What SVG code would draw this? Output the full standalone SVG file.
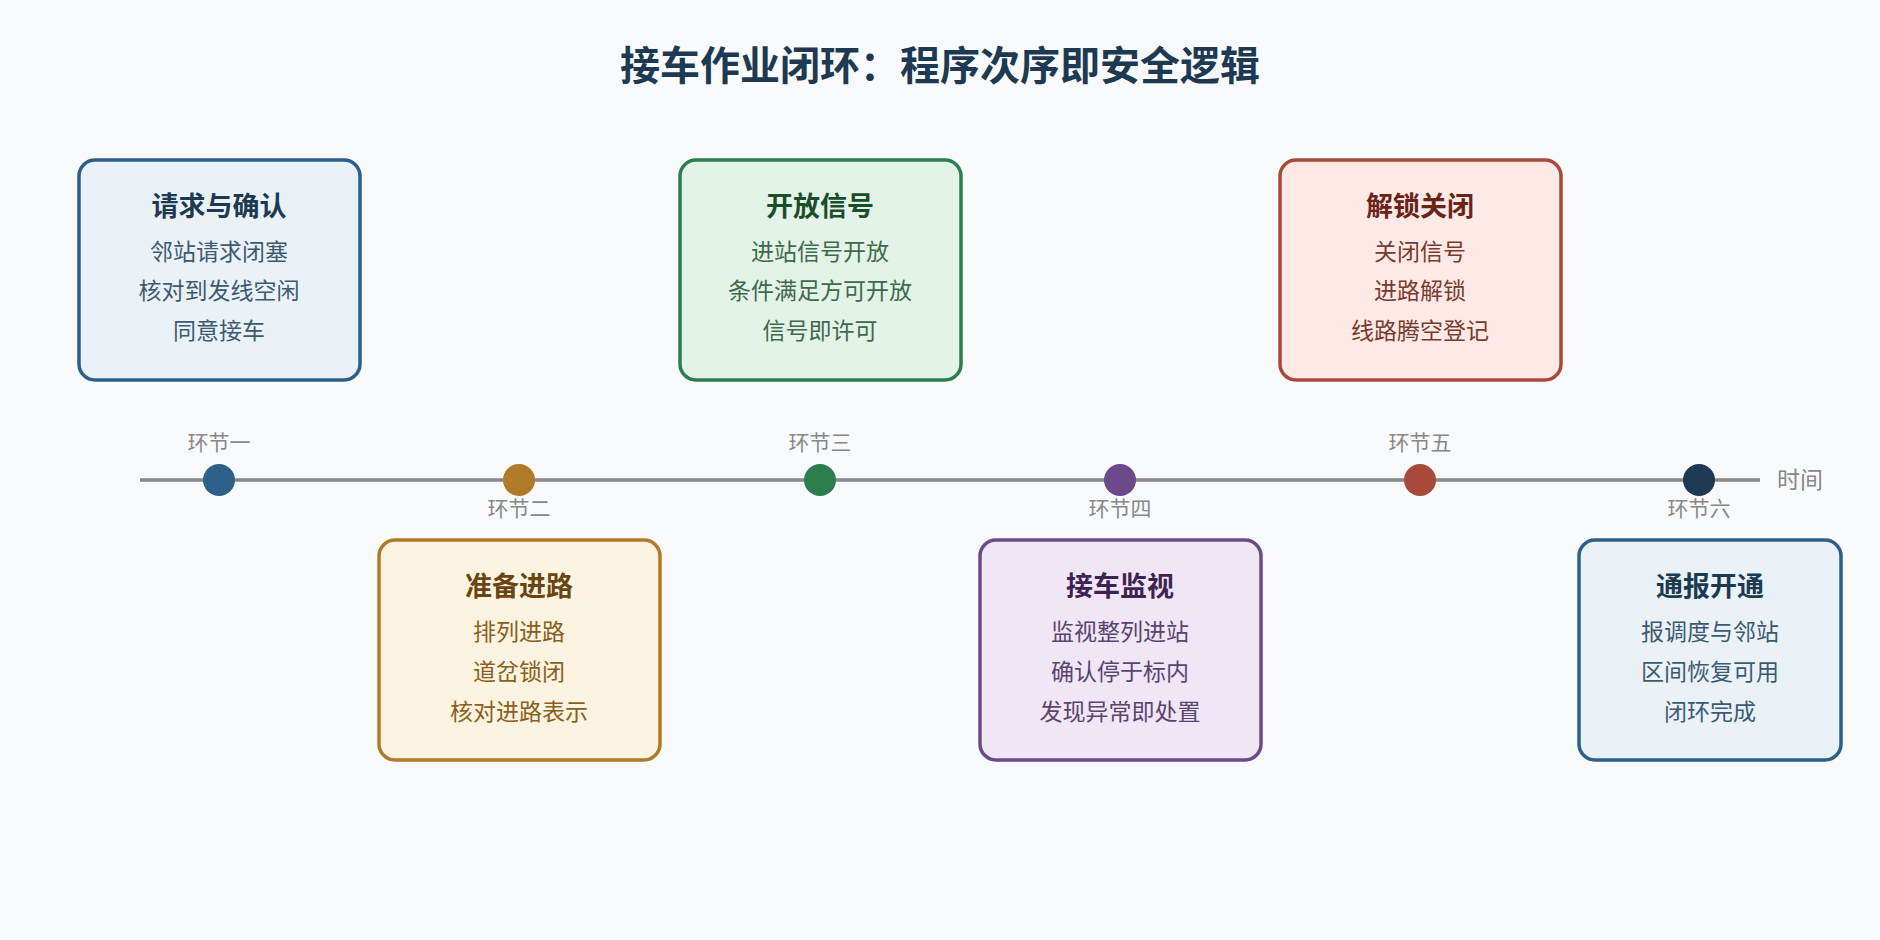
<svg xmlns="http://www.w3.org/2000/svg" width="1880" height="940" viewBox="0 0 1880 940">
<style>
text{font-family:"Noto Sans CJK SC","Noto Sans",sans-serif;text-anchor:middle}
.title{font-size:40px;font-weight:bold;fill:#1e3a52}
.box{stroke-width:3.5}
.h{font-size:27px;font-weight:bold}
.l{font-size:23px}
.lab{font-size:21px;fill:#888}
</style>
<rect width="1880" height="940" fill="#f8fafc"/>
<text class="title" x="940" y="80">接车作业闭环：程序次序即安全逻辑</text>
<g id="connectors">
<line x1="140" y1="480" x2="1760" y2="480" stroke="#888" stroke-width="3.5"/>
</g>
<text class="lab" x="1800" y="488" style="font-size:23px">时间</text>
<g id="dots">
<circle cx="219" cy="480" r="16" fill="#2c5f8a"/><text class="lab" x="219" y="450">环节一</text>
<circle cx="519" cy="480" r="16" fill="#b07a2a"/><text class="lab" x="519" y="516">环节二</text>
<circle cx="820" cy="480" r="16" fill="#2e7d4f"/><text class="lab" x="820" y="450">环节三</text>
<circle cx="1120" cy="480" r="16" fill="#6b4a8a"/><text class="lab" x="1120" y="516">环节四</text>
<circle cx="1420" cy="480" r="16" fill="#a84a3a"/><text class="lab" x="1420" y="450">环节五</text>
<circle cx="1699" cy="480" r="16" fill="#1e3a55"/><text class="lab" x="1699" y="516">环节六</text>
</g>
<g id="n1">
<rect class="box" x="79" y="160" width="281" height="220" rx="16" fill="#eaf2f8" stroke="#2c5f8a"/>
<text class="h" x="219" y="216" fill="#1c3a52">请求与确认</text>
<text class="l" x="219" y="260" fill="#3d5a73">邻站请求闭塞</text>
<text class="l" x="219" y="299" fill="#3d5a73">核对到发线空闲</text>
<text class="l" x="219" y="339" fill="#3d5a73">同意接车</text>
</g>
<g id="n2">
<rect class="box" x="379" y="540" width="281" height="220" rx="16" fill="#fdf3e1" stroke="#b07a2a"/>
<text class="h" x="519" y="596" fill="#6b4510">准备进路</text>
<text class="l" x="519" y="640" fill="#8a6020">排列进路</text>
<text class="l" x="519" y="680" fill="#8a6020">道岔锁闭</text>
<text class="l" x="519" y="720" fill="#8a6020">核对进路表示</text>
</g>
<g id="n3">
<rect class="box" x="680" y="160" width="281" height="220" rx="16" fill="#e4f3e8" stroke="#2e7d4f"/>
<text class="h" x="820" y="216" fill="#1b4d2c">开放信号</text>
<text class="l" x="820" y="260" fill="#3d6a4c">进站信号开放</text>
<text class="l" x="820" y="299" fill="#3d6a4c">条件满足方可开放</text>
<text class="l" x="820" y="339" fill="#3d6a4c">信号即许可</text>
</g>
<g id="n4">
<rect class="box" x="980" y="540" width="281" height="220" rx="16" fill="#f0e6f5" stroke="#6b4a8a"/>
<text class="h" x="1120" y="596" fill="#3d2452">接车监视</text>
<text class="l" x="1120" y="640" fill="#5a4470">监视整列进站</text>
<text class="l" x="1120" y="680" fill="#5a4470">确认停于标内</text>
<text class="l" x="1120" y="720" fill="#5a4470">发现异常即处置</text>
</g>
<g id="n5">
<rect class="box" x="1280" y="160" width="281" height="220" rx="16" fill="#fdeae6" stroke="#a84a3a"/>
<text class="h" x="1420" y="216" fill="#6b2418">解锁关闭</text>
<text class="l" x="1420" y="260" fill="#7a3a2c">关闭信号</text>
<text class="l" x="1420" y="299" fill="#7a3a2c">进路解锁</text>
<text class="l" x="1420" y="339" fill="#7a3a2c">线路腾空登记</text>
</g>
<g id="n6">
<rect class="box" x="1579" y="540" width="262" height="220" rx="16" fill="#eaf2f8" stroke="#2c5f8a"/>
<text class="h" x="1710" y="596" fill="#1c3a52">通报开通</text>
<text class="l" x="1710" y="640" fill="#3d5a73">报调度与邻站</text>
<text class="l" x="1710" y="680" fill="#3d5a73">区间恢复可用</text>
<text class="l" x="1710" y="720" fill="#3d5a73">闭环完成</text>
</g>
</svg>
